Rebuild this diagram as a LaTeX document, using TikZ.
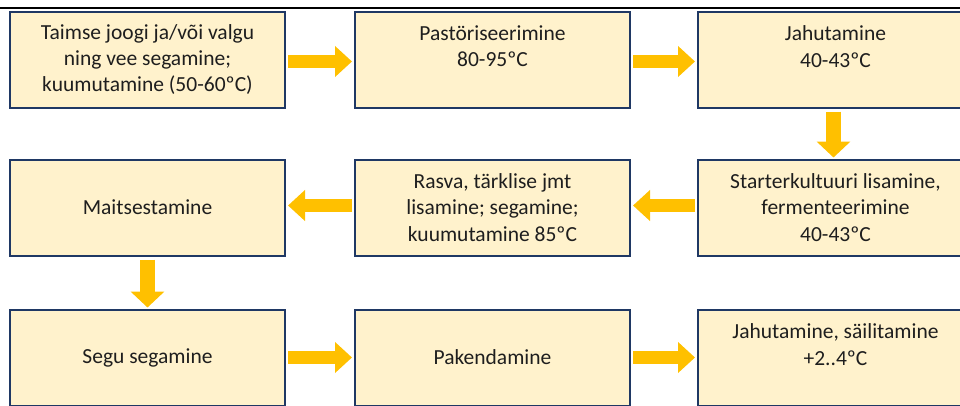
\documentclass[tikz,border=0pt]{standalone}
\usepackage{fontspec}
\setmainfont{Carlito}
\usetikzlibrary{arrows.meta}
\definecolor{boxfill}{HTML}{FFF2CC}
\definecolor{boxline}{HTML}{1F3864}
\definecolor{arrowc}{HTML}{FFC000}
\definecolor{txt}{HTML}{1E1E1E}
\tikzset{
  stepbox/.style={draw=boxline, line width=2pt, fill=boxfill, minimum width=275pt, minimum height=96pt,
    inner sep=0pt, align=center, text=txt, font=\fontsize{21.5pt}{26.3pt}\selectfont},
  harrow/.style={draw=arrowc, line width=13pt, -{Triangle[width=30pt,length=17pt]}, shorten <=2pt, shorten >=2pt},
  varrow/.style={draw=arrowc, line width=15pt, -{Triangle[width=33pt,length=16pt]}, shorten <=3pt, shorten >=1pt}
}
\begin{document}
\begin{tikzpicture}[x=1pt,y=-1pt]
\useasboundingbox (0,0) rectangle (960,405);
\draw[line width=2pt] (0,8) coordinate (la) -- (960,8) coordinate (lb);
\node[stepbox] (b1) at (147.5,59.5) {Taimse joogi ja/või valgu\\ning vee segamine;\\kuumutamine (50-60ºC)};
\node[stepbox] (b2) at (492.5,59.5) {Pastöriseerimine\\80-95ºC\\[-8pt]\strut};
\node[stepbox] (b3) at (835.5,59.5) {Jahutamine\\40-43ºC\\[-8pt]\strut};
\node[stepbox] (b4) at (147.5,207.5) {Maitsestamine};
\node[stepbox] (b5) at (492.5,207.5) {Rasva, tärklise jmt\\lisamine; segamine;\\kuumutamine 85ºC};
\node[stepbox] (b6) at (835.5,207.5) {Starterkultuuri lisamine,\\fermenteerimine\\40-43ºC};
\node[stepbox] (b7) at (147.5,357.5) {Segu segamine};
\node[stepbox] (b8) at (492.5,357.5) {Pakendamine};
\node[stepbox] (b9) at (835.5,357.5) {Jahutamine, säilitamine\\+2..4ºC\\[-8pt]\strut};
\draw[harrow] ([yshift=-2pt]b1.east) -- ([yshift=-2pt]b2.west);
\draw[harrow] ([yshift=-2pt]b2.east) -- ([yshift=-2pt]b3.west);
\draw[varrow] ([xshift=-2pt]b3.south) -- ([xshift=-2pt]b6.north);
\draw[harrow] ([yshift=2pt]b6.west) -- ([yshift=2pt]b5.east);
\draw[harrow] ([yshift=2pt]b5.west) -- ([yshift=2pt]b4.east);
\draw[varrow] (b4.south) -- (b7.north);
\draw[harrow] (b7.east) -- (b8.west);
\draw[harrow] (b8.east) -- (b9.west);
\end{tikzpicture}
\end{document}
